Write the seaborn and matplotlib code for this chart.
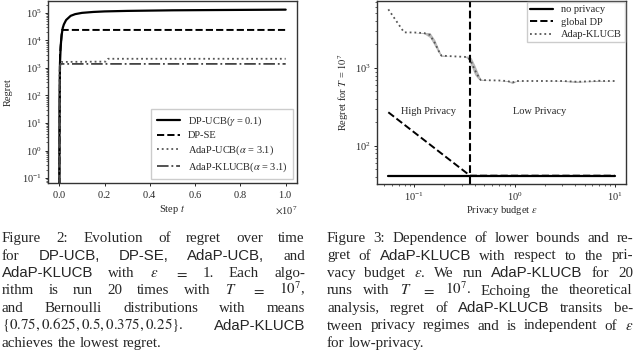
import matplotlib
matplotlib.use("Agg")
import matplotlib.pyplot as plt
import seaborn as sns
import numpy as np

# ---- left panel: regret over time (steps in units of 1e7) ----
t_ucb = [0, 0.001, 0.003, 0.006, 0.01, 0.015, 0.02, 0.03, 0.05, 0.07, 0.1, 0.15, 0.2, 0.3, 0.5, 0.7, 1.0]
r_ucb = [0.01, 50, 1500, 6000, 15000, 28000, 38000, 55000, 78000, 90000, 100000, 108000, 113000, 118000, 124000, 127000, 131000]
t_se = [0, 0.003, 0.012, 1.0]
r_se = [0.01, 3000, 24000, 24000]
t_adaucb = [0, 0.002, 0.004, 0.01, 0.205, 0.215, 1.0]
r_adaucb = [0.01, 1100, 1300, 1650, 1700, 2150, 2150]
t_adakl = [0, 0.002, 0.006, 1.0]
r_adakl = [0.01, 1100, 1400, 1400]

# ---- right panel: regret vs privacy budget ----
eps = [0.055, 0.079, 0.1, 0.125, 0.143, 0.16, 0.175, 0.186, 0.22, 0.27, 0.31, 0.34, 0.37, 0.4, 0.43, 0.46, 0.55, 0.7, 0.85, 0.95, 1.05, 1.3, 2.0, 3.0, 3.8, 4.2, 5.0, 6.5, 7.0, 7.5, 10.0]
reg_kl = [5650, 2860, 2850, 2800, 2650, 2100, 1650, 1440, 1420, 1400, 1390, 1380, 1200, 950, 800, 700, 695, 690, 680, 650, 680, 680, 680, 680, 670, 665, 670, 680, 685, 680, 680]
reg_lo = [5650, 2860, 2850, 2750, 2450, 1900, 1550, 1400, 1420, 1400, 1390, 1330, 1050, 820, 730, 690, 695, 690, 670, 630, 675, 680, 680, 675, 655, 650, 665, 670, 670, 675, 680]
reg_hi = [5650, 2860, 2850, 2850, 2850, 2300, 1750, 1480, 1420, 1400, 1390, 1430, 1350, 1100, 880, 720, 695, 690, 690, 670, 685, 680, 680, 685, 685, 680, 675, 690, 700, 685, 680]
eps_dp = [0.055, 0.36, 10.0]
reg_dp = [270, 41.5, 41.5]
eps_np = [0.055, 10.0]
reg_np = [41.5, 41.5]
eps_switch = 0.36

left_caption = [
    ([("Figure", "s"), ("2:", "s"), ("Evolution", "s"), ("of", "s"), ("regret", "s"), ("over", "s"), ("time", "s")], True),
    ([("for", "s"), ("DP-UCB,", "h"), ("DP-SE,", "h"), ("AdaP-UCB,", "h"), ("and", "s")], True),
    ([("AdaP-KLUCB", "h"), ("with", "s"), ("$\\epsilon$", "s"), ("$=$", "s"), ("1.", "s"), ("Each", "s"), ("algo-", "s")], True),
    ([("rithm", "s"), ("is", "s"), ("run", "s"), ("20", "s"), ("times", "s"), ("with", "s"), ("$T$", "s"), ("$=$", "s"), ("$10^7$,", "s")], True),
    ([("and", "s"), ("Bernoulli", "s"), ("distributions", "s"), ("with", "s"), ("means", "s")], True),
    ([("$\\{0.75, 0.625, 0.5, 0.375, 0.25\\}$.", "s"), ("AdaP-KLUCB", "h")], True),
    ([("achieves", "s"), ("the", "s"), ("lowest", "s"), ("regret.", "s")], False),
]
right_caption = [
    ([("Figure", "s"), ("3:", "s"), ("Dependence", "s"), ("of", "s"), ("lower", "s"), ("bounds", "s"), ("and", "s"), ("re-", "s")], True),
    ([("gret", "s"), ("of", "s"), ("AdaP-KLUCB", "h"), ("with", "s"), ("respect", "s"), ("to", "s"), ("the", "s"), ("pri-", "s")], True),
    ([("vacy", "s"), ("budget", "s"), ("$\\epsilon$.", "s"), ("We", "s"), ("run", "s"), ("AdaP-KLUCB", "h"), ("for", "s"), ("20", "s")], True),
    ([("runs", "s"), ("with", "s"), ("$T$", "s"), ("$=$", "s"), ("$10^7$.", "s"), ("Echoing", "s"), ("the", "s"), ("theoretical", "s")], True),
    ([("analysis,", "s"), ("regret", "s"), ("of", "s"), ("AdaP-KLUCB", "h"), ("transits", "s"), ("be-", "s")], True),
    ([("tween", "s"), ("privacy", "s"), ("regimes", "s"), ("and", "s"), ("is", "s"), ("independent", "s"), ("of", "s"), ("$\\epsilon$", "s")], True),
    ([("for", "s"), ("low-privacy.", "s")], False),
]

sns.set_style("ticks")
plt.rcParams["font.family"] = "serif"
plt.rcParams["font.serif"] = ["Liberation Serif", "DejaVu Serif"]
plt.rcParams["mathtext.fontset"] = "stix"

W, H = 640, 352
fig = plt.figure(figsize=(6.4, 3.52), dpi=100)
ax1 = fig.add_axes([48 / W, 1 - 183 / H, (297 - 48) / W, 182 / H])
ax2 = fig.add_axes([377 / W, 1 - 184 / H, (626 - 377) / W, 183 / H])

fs = 7.5
t_scale = 1e7
sns.lineplot(x=np.array(t_ucb) * t_scale, y=r_ucb, ax=ax1, color="black", lw=1.6,
             label="DP-UCB($\\gamma$ = 0.1)", sort=False)
sns.lineplot(x=np.array(t_se) * t_scale, y=r_se, ax=ax1, color="black", lw=1.4, linestyle="--",
             label="DP-SE", sort=False)
sns.lineplot(x=np.array(t_adaucb) * t_scale, y=r_adaucb, ax=ax1, color="#555555", lw=1.3, linestyle=":",
             label="AdaP-UCB($\\alpha$ = 3.1)", sort=False)
sns.lineplot(x=np.array(t_adakl) * t_scale, y=r_adakl, ax=ax1, color="#444444", lw=1.3, linestyle="-.",
             label="AdaP-KLUCB($\\alpha$ = 3.1)", sort=False)
ax1.set_yscale("log")
ax1.set_ylim(0.066, 2.7e5)
ax1.set_xlim(-0.05e7, 1.05e7)
ax1.ticklabel_format(axis="x", style="sci", scilimits=(0, 0), useMathText=True)
ax1.set_xlabel("Step $t$", fontsize=fs, labelpad=2)
ax1.set_ylabel("Regret", fontsize=fs)
ax1.yaxis.set_label_coords(-0.14, 0.5)
ax1.tick_params(labelsize=fs, length=2.5, width=0.7, pad=2)
ax1.tick_params(which="minor", length=1.5, width=0.5)
ax1.xaxis.get_offset_text().set_fontsize(fs)
ax1.legend(loc="lower right", fontsize=fs, frameon=True, fancybox=False, edgecolor="#cccccc",
           handlelength=2.2, borderpad=0.5, labelspacing=0.3, framealpha=1, borderaxespad=0.4)

ax2.fill_between(eps, reg_lo, reg_hi, color="gray", alpha=0.55, lw=0)
sns.lineplot(x=eps_np, y=reg_np, ax=ax2, color="black", lw=1.6, label="no privacy")
sns.lineplot(x=eps_dp, y=reg_dp, ax=ax2, color="black", lw=1.4, linestyle="--", label="global DP")
sns.lineplot(x=eps, y=reg_kl, ax=ax2, color="#555555", lw=1.3, linestyle=":", label="Adap-KLUCB")
ax2.axvline(eps_switch, color="black", lw=1.5, linestyle="--")
ax2.set_xscale("log")
ax2.set_yscale("log")
ax2.text(0.14, 280, "High Privacy", fontsize=fs, ha="center", va="center")
ax2.text(1.78, 280, "Low Privacy", fontsize=fs, ha="center", va="center")
ax2.set_xlabel("Privacy budget $\\epsilon$", fontsize=fs, labelpad=1)
ax2.set_ylabel("Regret for $T$ = $10^7$", fontsize=fs)
ax2.yaxis.set_label_coords(-0.105, 0.5)
ax2.tick_params(labelsize=fs, length=2.5, width=0.7, pad=2)
ax2.tick_params(which="minor", length=1.5, width=0.5)
ax2.legend(loc="upper right", fontsize=fs, frameon=True, fancybox=False, edgecolor="#cccccc",
           handlelength=2.2, borderpad=0.3, labelspacing=0.3, framealpha=1, borderaxespad=0.1)

for ax in (ax1, ax2):
    for s in ax.spines.values():
        s.set_linewidth(1.0)
        s.set_color("#333333")

# ---- captions, justified line by line ----
cap_size = 10.8
families = {"s": ["Liberation Serif"], "h": ["Liberation Sans"]}
renderer = fig.canvas.get_renderer()


def draw_caption(lines, x0, x1, base0, step):
    for i, (words, justify) in enumerate(lines):
        yb = 1 - (base0 + i * step) / H
        texts = [fig.text(0, yb, w, fontsize=cap_size, family=families[f], va="baseline")
                 for w, f in words]
        widths = [t.get_window_extent(renderer).width for t in texts]
        if justify and len(texts) > 1:
            gap = (x1 - x0 - sum(widths)) / (len(texts) - 1)
        else:
            gap = cap_size * 0.25 * 100 / 72
        x = x0
        for t, w in zip(texts, widths):
            t.set_x(x / W)
            x += w + gap


draw_caption(left_caption, 2, 305, 242, 17.5)
draw_caption(right_caption, 327, 633, 242, 17.5)

fig.savefig("out.png", dpi=100)
